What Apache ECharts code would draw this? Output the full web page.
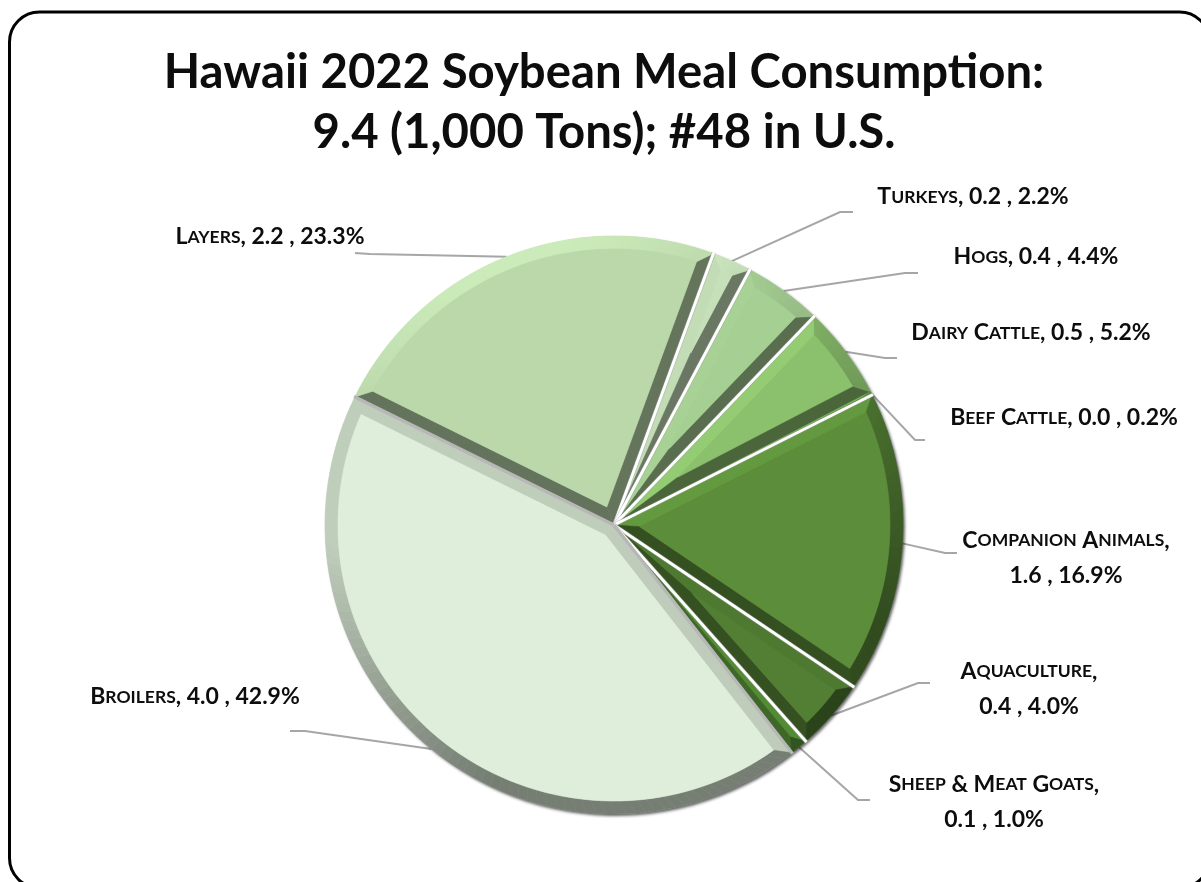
<!DOCTYPE html>
<html>
<head>
<meta charset="utf-8">
<style>html,body{margin:0;padding:0;background:#fff}#chart{width:1201px;height:882px}</style>
<script src="https://cdn.jsdelivr.net/npm/echarts@6/dist/echarts.min.js"></script>
</head>
<body>
<div id="chart"></div>
<script>
// Hawaii soybean meal use by livestock sector, clockwise from Turkeys
const categories = ['Turkeys', 'Hogs', 'Dairy Cattle', 'Beef Cattle', 'Companion Animals', 'Aquaculture', 'Sheep & Meat Goats', 'Broilers', 'Layers'];
const tons = ['0.2', '0.4', '0.5', '0.0', '1.6', '0.4', '0.1', '4.0', '2.2'];
const shares = [2.2, 4.4, 5.2, 0.2, 16.9, 4.0, 1.0, 42.9, 23.3];
const faceColors = ['#c6e1ba', '#a6cf93', '#8bc06d', '#6aa64b', '#5c8d3a', '#527f33', '#5f9e3c', '#deeeda', '#bbd8ab'];

// Which categories wrap their value onto a second line
const wrapped = ['Companion Animals', 'Aquaculture', 'Sheep & Meat Goats'];

// Label centre and leader-line elbow/end, per category
const labelSpots = [
  { x: 973, y: 197, elbow: [840, 212], end: [853, 212] },
  { x: 1036, y: 257, elbow: [905, 273], end: [918, 273] },
  { x: 1031, y: 333, elbow: [885, 358], end: [897, 358] },
  { x: 1064, y: 418, elbow: [915, 440], end: [925, 440] },
  { x: 1066, y: 558, elbow: [945, 553], end: [957, 553] },
  { x: 1029, y: 689, elbow: [918, 683], end: [930, 683] },
  { x: 994, y: 802, elbow: [858, 800], end: [870, 800] },
  { x: 195, y: 697, elbow: [305, 731], end: [290, 731] },
  { x: 270, y: 237, elbow: [370, 254], end: [355, 253] }
];

const CX = 614, CY = 525, R = 289, BEVEL = 13;
const START_FROM_NORTH = 20.1;
const total = shares.reduce((a, b) => a + b, 0);
const light = [-0.35, -0.92];

// Cumulative slice bounds in degrees clockwise from north
const bounds = [];
shares.reduce((acc, v) => {
  const next = acc + v / total * 360;
  bounds.push([acc, next]);
  return next;
}, START_FROM_NORTH);

const rad = d => d * Math.PI / 180;
const polar = (deg, r) => [CX + r * Math.sin(rad(deg)), CY - r * Math.cos(rad(deg))];

function shade(hex, normal) {
  const dot = normal[0] * light[0] + normal[1] * light[1];
  const n = parseInt(hex.slice(1), 16);
  const rgb = [n >> 16, (n >> 8) & 255, n & 255];
  // the palest face never takes a highlight brighter than a soft grey-green
  const ceiling = rgb[1] > 230 ? 0.86 : 1.09;
  const k = Math.max(0.53, Math.min(ceiling, 0.76 + 0.34 * dot));
  return 'rgb(' + rgb.map(c => Math.min(255, Math.round(c * k))).join(',') + ')';
}

// Small-caps rendering: capitals stay full size, lower case becomes small capitals
function smallCaps(text) {
  return text.replace(/[a-z]+|[^a-z]+/g, run =>
    /[a-z]/.test(run[0]) ? '{sc|' + run.toUpperCase() + '}' : '{cap|' + run + '}');
}

function poly(points, fill) {
  return {
    type: 'polygon', silent: true, shape: { points },
    style: { fill, stroke: fill, lineWidth: 0.6 }
  };
}

// Bevelled face of one slice, lit from above and slightly left
function renderSlice(params) {
  const i = params.dataIndex;
  const [a0, a1] = bounds[i];
  const face = faceColors[i];
  const span = a1 - a0;
  const inner = R - BEVEL;
  const delta = Math.asin(BEVEL / inner) * 180 / Math.PI;
  const children = [];
  const hasFace = span > 2 * delta;
  const i0 = hasFace ? a0 + delta : (a0 + a1) / 2;
  const i1 = hasFace ? a1 - delta : (a0 + a1) / 2;
  const mid = (a0 + a1) / 2;
  const apexDist = Math.min(BEVEL / Math.sin(rad(span / 2)), inner);
  const apex = polar(mid, apexDist);

  // radial bevels on the two straight edges
  children.push(poly([[CX, CY], polar(a0, R), polar(i0, inner), apex],
    shade(face, [-Math.cos(rad(a0)), -Math.sin(rad(a0))])));
  children.push(poly([[CX, CY], polar(a1, R), polar(i1, inner), apex],
    shade(face, [Math.cos(rad(a1)), Math.sin(rad(a1))])));

  // rim bevel, split so the shade follows the curve
  const steps = Math.max(2, Math.ceil(span / 2));
  for (let s = 0; s < steps; s++) {
    const t0 = s / steps, t1 = (s + 1) / steps;
    const oa = a0 + span * t0, ob = a0 + span * t1;
    const ia = i0 + (i1 - i0) * t0, ib = i0 + (i1 - i0) * t1;
    const m = rad((oa + ob) / 2);
    children.push(poly([polar(oa, R), polar(ob, R), polar(ib, inner), polar(ia, inner)],
      shade(face, [Math.sin(m), -Math.cos(m)])));
  }

  // flat inner face
  if (hasFace) {
    const pts = [apex];
    const n = Math.ceil((i1 - i0) / 2);
    for (let s = 0; s <= n; s++) pts.push(polar(i0 + (i1 - i0) * s / n, inner));
    children.push(poly(pts, face));
  }
  return { type: 'group', children };
}

// Thin separators between neighbouring slices; a sliver merges into the slice before it
function renderGap(params) {
  const i = params.dataIndex;
  if (shares[i] < 0.5) return { type: 'group', children: [] };
  const deg = bounds[i][0];
  const prev = categories[(i + categories.length - 1) % categories.length];
  const nearBroilers = categories[i] === 'Broilers' || prev === 'Broilers';
  const [x, y] = polar(deg, R + 1);
  const line = (stroke, lineWidth) => ({
    type: 'line', silent: true,
    shape: { x1: CX, y1: CY, x2: x, y2: y },
    style: { stroke, lineWidth }
  });
  return {
    type: 'group',
    children: nearBroilers
      ? [line('#b7b7b7', 3.2)]
      : [line('rgba(150,150,150,0.45)', 4.4), line('#ffffff', 3)]
  };
}

const chart = echarts.init(document.getElementById('chart'), null, { renderer: 'canvas' });
chart.setOption({
  animation: false,
  backgroundColor: '#ffffff',
  graphic: [{
    type: 'rect', silent: true, z: 0,
    shape: { x: 9.5, y: 12, width: 1200, height: 876, r: 30 },
    style: { fill: '#ffffff', stroke: '#000000', lineWidth: 3 }
  }],
  title: {
    text: 'Hawaii 2022 Soybean Meal Consumption:\n9.4 (1,000 Tons); #48 in U.S.',
    left: 599, top: 38, textAlign: 'center',
    textStyle: { fontFamily: 'Lato', fontWeight: 'bold', fontSize: 47.3, lineHeight: 60, color: '#0d0d0d' }
  },
  series: [
    {
      type: 'pie', z: 2,
      center: [CX, CY], radius: [0, R],
      startAngle: 90 - START_FROM_NORTH,
      clockwise: true, avoidLabelOverlap: false,
      data: categories.map((name, i) => ({
        name, value: shares[i], itemStyle: { color: faceColors[i] }
      })),
      itemStyle: {
        shadowBlur: 3, shadowColor: 'rgba(0,0,0,0.6)', shadowOffsetX: 2, shadowOffsetY: 2
      },
      label: {
        show: true, position: 'outside', color: '#0d0d0d', lineHeight: 35,
        formatter: p => {
          const i = p.dataIndex;
          const sep = wrapped.includes(p.name) ? '\n' : ' ';
          return smallCaps(p.name + ',') + '{cap|' + sep + tons[i] + ' , ' + shares[i].toFixed(1) + '%}';
        },
        rich: {
          cap: { fontFamily: 'Lato', fontWeight: 'bold', fontSize: 23, color: '#0d0d0d', lineHeight: 35 },
          sc: { fontFamily: 'Lato', fontWeight: 'bold', fontSize: 17.5, color: '#0d0d0d', lineHeight: 35 }
        }
      },
      labelLine: { show: true, smooth: false, lineStyle: { color: '#a6a6a6', width: 2 } },
      labelLayout: params => {
        const spot = labelSpots[params.dataIndex];
        const from = params.labelLinePoints ? params.labelLinePoints[0] : polar((bounds[params.dataIndex][0] + bounds[params.dataIndex][1]) / 2, R);
        return {
          x: spot.x, y: spot.y, align: 'center', verticalAlign: 'middle',
          labelLinePoints: [from, spot.elbow, spot.end]
        };
      },
      emphasis: { disabled: true }
    },
    {
      type: 'custom', z: 3, coordinateSystem: 'none', silent: true,
      data: shares, renderItem: renderSlice
    },
    {
      type: 'custom', z: 4, coordinateSystem: 'none', silent: true,
      data: shares, renderItem: renderGap
    }
  ]
});
</script>
</body>
</html>
